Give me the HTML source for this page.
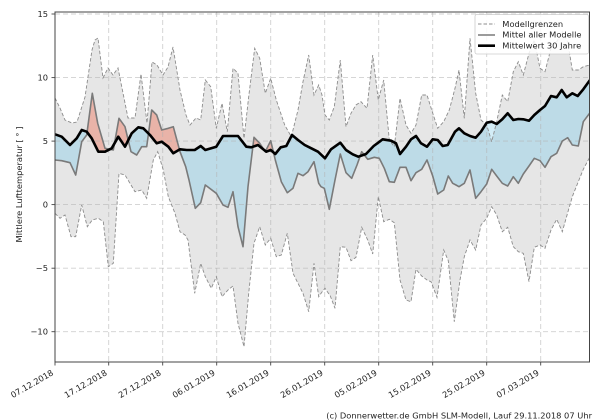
<!DOCTYPE html>
<html><head><meta charset="utf-8"><style>
html,body{margin:0;padding:0;background:#fff;}
svg{display:block;font-family:"DejaVu Sans","Liberation Sans",sans-serif;}
</style></head><body>
<svg width="600" height="420" viewBox="0 0 600 420" xmlns="http://www.w3.org/2000/svg">
<defs>
<clipPath id="ax"><rect x="55" y="12" width="534.5" height="350"/></clipPath>
<clipPath id="belowB"><polygon points="55,134.3 61.7,136.7 70,145 76.7,138.3 81.7,130 86.7,131.7 91.7,138.3 98.3,151.7 105,151.7 111.7,148.3 118.3,136.7 125,146.7 131.7,133.3 138.3,127.3 143.3,128.3 150,135 156.7,143.3 161.7,141.7 168.3,146.7 173.3,153.3 180,149.3 186.7,150 194.7,150 200.7,146 205.3,150 216.3,146.7 223,136 238,136 246.3,146.7 251.3,147.3 258,145 266.3,151.7 270.7,150 275.3,154 280.7,147.3 286.3,146 292,135 298,140 304.7,145 311.3,148.3 318,151.7 325,158.3 331,149.3 340.3,142.7 346,150 352.7,154.3 358.3,156.7 366,154 373.7,146 382.7,139.3 391,140.7 396,143.3 400,154 406,146.7 411,139.3 416,136 421,143.3 427,146.7 432.7,139.3 437.7,140 442.7,146 447.7,145 455,131.7 459,128.3 464.3,133.3 470,136 475.7,137.7 481,131.7 486.7,122.7 491.7,121.7 496.7,124 502.3,119.3 507.7,113.3 513.3,120 518.3,119 523.3,119.3 529,120.7 534.3,115 540,110 545,106 551,96 556.7,97.3 561.7,90 566.7,97.3 572.3,93.3 577.7,96 583.3,89.3 590,80 590,420 55,420"/></clipPath>
<clipPath id="aboveB"><polygon points="55,134.3 61.7,136.7 70,145 76.7,138.3 81.7,130 86.7,131.7 91.7,138.3 98.3,151.7 105,151.7 111.7,148.3 118.3,136.7 125,146.7 131.7,133.3 138.3,127.3 143.3,128.3 150,135 156.7,143.3 161.7,141.7 168.3,146.7 173.3,153.3 180,149.3 186.7,150 194.7,150 200.7,146 205.3,150 216.3,146.7 223,136 238,136 246.3,146.7 251.3,147.3 258,145 266.3,151.7 270.7,150 275.3,154 280.7,147.3 286.3,146 292,135 298,140 304.7,145 311.3,148.3 318,151.7 325,158.3 331,149.3 340.3,142.7 346,150 352.7,154.3 358.3,156.7 366,154 373.7,146 382.7,139.3 391,140.7 396,143.3 400,154 406,146.7 411,139.3 416,136 421,143.3 427,146.7 432.7,139.3 437.7,140 442.7,146 447.7,145 455,131.7 459,128.3 464.3,133.3 470,136 475.7,137.7 481,131.7 486.7,122.7 491.7,121.7 496.7,124 502.3,119.3 507.7,113.3 513.3,120 518.3,119 523.3,119.3 529,120.7 534.3,115 540,110 545,106 551,96 556.7,97.3 561.7,90 566.7,97.3 572.3,93.3 577.7,96 583.3,89.3 590,80 590,0 55,0"/></clipPath>
</defs>
<rect width="600" height="420" fill="#fff"/>
<g clip-path="url(#ax)">
<!-- model band -->
<polygon fill="#e6e6e6" points="55,98 60,108 65,120 72,123 77,122 85,97 92,50 95,40 98,38 103,78 108,68 113,75 118,68 122,88 128,118 135,118 141,74 147,123 152,62 157,65 163,75 168,67 173,47 180,90 186,115 190,125 196,118 200.7,120 205.3,80 210.7,86.7 216.3,128.3 222,103.3 227.3,131.7 233,68.3 238,73.3 244,138.3 248.7,96.7 254.7,48.3 259.7,58.3 265.3,93.3 270.7,78.3 276.3,100 284.7,125 291.3,136.7 298,110 303,81.7 308.7,55 314,95 318.7,85 322,95 325,115 329.3,120 334.3,106.7 340.3,60 346,126.7 351,113.3 356,105 361,101.7 367,108.3 372.7,55 378.3,100 383.7,80 389.3,140 394.3,146.7 400,98.3 406,125 411,133.3 416,125 421.7,95 427,95 431.7,110 437.7,128.3 443.7,121.7 449.3,110 455,88.3 459,70 464.3,118.3 470,38.3 475.7,93.3 481,120 486.7,125 491.7,141.7 496.7,121.7 502.3,95 507.7,101.7 513.3,71.7 518.3,61.7 523.3,75 529,53.3 534.3,40 540,68.3 545,71.7 551,48.3 556.7,41.7 562.3,31.7 567.7,41.7 572.3,70 578.3,70 583.3,66.7 590,65 590,156.7 583.3,169.3 578.3,181.7 572.3,196.7 567.7,212.7 562.3,231.7 556.7,219.3 551,230 545,248.3 540,245 534.3,247.3 529,281.7 523.3,253.3 518.3,251.7 513.3,246.7 507.7,227.3 502.3,231.7 496.7,215 491.7,206.7 486.7,218.3 481,225 475.7,250 470,240 464.3,256.7 460,280 454.3,321.7 448.3,260.7 443.7,250 437,297.3 431,281.7 427,280 421.7,276 416,269.3 411,301.7 406,300 400,280 394.3,222.7 389.3,219.3 383.7,221.7 378.3,196.7 372.7,254 367.7,240 361.7,227.3 356,257.3 351,260.7 346,247.3 340.3,246.7 335,308.3 330.3,296 325,288.3 322,292 318.7,296.7 314,263.3 308.7,311.7 303,293.3 298,283.3 293,273.3 287.3,233.3 281.3,255 276.3,256.7 270.7,238.3 265.3,245 259.7,226.7 254,243.3 248.7,293.3 244,346.7 238,323.3 233,286 228,290 222,296.7 216.3,276.7 211.3,288.3 205.3,276.7 200.7,263.3 194.7,293.3 188,240 185,235 180,231.7 175,213.3 168.3,196.7 163.3,170 157.7,151.7 153.3,160 146.7,198.3 141.7,190 135,191.7 125,175 119,173.3 113.3,263.3 108.3,266.7 103.3,221.7 98.3,218.3 92.3,220 87.3,226.7 81.7,205 75.7,236.7 71,236.7 65,215 60,218.3 55,213.3"/>
<!-- blue: mean below 30y -->
<g clip-path="url(#belowB)"><polygon fill="#bddbe7" points="55,160 61.7,160.7 70,162.7 75.7,175 81.7,141.7 86.7,135 92.3,93.3 97.7,123.3 105,148.3 113.3,150 119,118.3 125,126.7 131,151.7 136.7,155 141.7,146.7 146.7,146.7 151.7,110 156.7,115 161.7,130 168.3,128.3 173.3,126.7 180,151.7 185.7,166.7 189,180 195.3,208.3 200.7,202.7 205.3,185 216.3,193.3 223,205 228,207.3 233,191.7 238,226.7 243,246.7 248,186.7 254,137.3 259.7,143.3 265.3,151.7 270.7,140.7 275.3,160 281.3,181.7 287.3,192.7 293,188.3 298,173.3 303,175.7 308,171.7 314,161.7 318.7,183.3 321,186.7 324.3,188.3 329.3,209.3 335,180 340.3,154 346,172.7 351.7,178.3 357,165 361.7,151.7 367.7,159.3 374.3,157.3 379.3,158.3 384.3,168.3 389.3,181.7 394.3,182.3 400,167.3 406,167.3 411,180.7 416,172.7 421.7,169.3 427,160 432.7,176 437.7,194 443.7,190 448.3,176 452.7,183.3 456,185 459,186.7 464.3,183.3 470,170 475.7,198.3 481,191.7 486.7,184 491.7,169.3 496.7,176 502.3,183.3 507.7,186 513.3,176.7 518.3,183.3 523.3,174 529,166 534.3,158.3 540,160.7 545,167.3 551,156.7 556.7,153.3 562.3,141 567.7,137.7 572.3,145 578.3,146 583.3,121.7 590,112.7 590,0 55,0"/></g>
<!-- light blue outside band near 491 -->
<polygon fill="#d3edf7" points="486.7,122.7 491.7,121.7 496.7,124 496.7,121.7 491.7,141.7 486.7,125"/>
<!-- red: mean above 30y -->
<g clip-path="url(#aboveB)"><polygon fill="#e9b3a8" points="55,160 61.7,160.7 70,162.7 75.7,175 81.7,141.7 86.7,135 92.3,93.3 97.7,123.3 105,148.3 113.3,150 119,118.3 125,126.7 131,151.7 136.7,155 141.7,146.7 146.7,146.7 151.7,110 156.7,115 161.7,130 168.3,128.3 173.3,126.7 180,151.7 185.7,166.7 189,180 195.3,208.3 200.7,202.7 205.3,185 216.3,193.3 223,205 228,207.3 233,191.7 238,226.7 243,246.7 248,186.7 254,137.3 259.7,143.3 265.3,151.7 270.7,140.7 275.3,160 281.3,181.7 287.3,192.7 293,188.3 298,173.3 303,175.7 308,171.7 314,161.7 318.7,183.3 321,186.7 324.3,188.3 329.3,209.3 335,180 340.3,154 346,172.7 351.7,178.3 357,165 361.7,151.7 367.7,159.3 374.3,157.3 379.3,158.3 384.3,168.3 389.3,181.7 394.3,182.3 400,167.3 406,167.3 411,180.7 416,172.7 421.7,169.3 427,160 432.7,176 437.7,194 443.7,190 448.3,176 452.7,183.3 456,185 459,186.7 464.3,183.3 470,170 475.7,198.3 481,191.7 486.7,184 491.7,169.3 496.7,176 502.3,183.3 507.7,186 513.3,176.7 518.3,183.3 523.3,174 529,166 534.3,158.3 540,160.7 545,167.3 551,156.7 556.7,153.3 562.3,141 567.7,137.7 572.3,145 578.3,146 583.3,121.7 590,112.7 590,420 55,420"/></g>
<!-- grid -->
<g stroke="#b0b0b0" stroke-opacity="0.6" stroke-width="0.9" stroke-dasharray="5,3" fill="none">
<line x1="55" y1="14" x2="590" y2="14"/>
<line x1="55" y1="77.6" x2="590" y2="77.6"/>
<line x1="55" y1="141.1" x2="590" y2="141.1"/>
<line x1="55" y1="204.6" x2="590" y2="204.6"/>
<line x1="55" y1="268.2" x2="590" y2="268.2"/>
<line x1="55" y1="331.7" x2="590" y2="331.7"/>
<line x1="108.7" y1="12" x2="108.7" y2="362"/>
<line x1="162.7" y1="12" x2="162.7" y2="362"/>
<line x1="216.7" y1="12" x2="216.7" y2="362"/>
<line x1="270.7" y1="12" x2="270.7" y2="362"/>
<line x1="324.7" y1="12" x2="324.7" y2="362"/>
<line x1="378.7" y1="12" x2="378.7" y2="362"/>
<line x1="432.7" y1="12" x2="432.7" y2="362"/>
<line x1="486.7" y1="12" x2="486.7" y2="362"/>
<line x1="540.7" y1="12" x2="540.7" y2="362"/>
</g>
<!-- band edges -->
<g fill="none" stroke="#8c8c8c" stroke-width="0.9" stroke-dasharray="3.5,2">
<polyline points="55,98 60,108 65,120 72,123 77,122 85,97 92,50 95,40 98,38 103,78 108,68 113,75 118,68 122,88 128,118 135,118 141,74 147,123 152,62 157,65 163,75 168,67 173,47 180,90 186,115 190,125 196,118 200.7,120 205.3,80 210.7,86.7 216.3,128.3 222,103.3 227.3,131.7 233,68.3 238,73.3 244,138.3 248.7,96.7 254.7,48.3 259.7,58.3 265.3,93.3 270.7,78.3 276.3,100 284.7,125 291.3,136.7 298,110 303,81.7 308.7,55 314,95 318.7,85 322,95 325,115 329.3,120 334.3,106.7 340.3,60 346,126.7 351,113.3 356,105 361,101.7 367,108.3 372.7,55 378.3,100 383.7,80 389.3,140 394.3,146.7 400,98.3 406,125 411,133.3 416,125 421.7,95 427,95 431.7,110 437.7,128.3 443.7,121.7 449.3,110 455,88.3 459,70 464.3,118.3 470,38.3 475.7,93.3 481,120 486.7,125 491.7,141.7 496.7,121.7 502.3,95 507.7,101.7 513.3,71.7 518.3,61.7 523.3,75 529,53.3 534.3,40 540,68.3 545,71.7 551,48.3 556.7,41.7 562.3,31.7 567.7,41.7 572.3,70 578.3,70 583.3,66.7 590,65"/>
<polyline points="55,213.3 60,218.3 65,215 71,236.7 75.7,236.7 81.7,205 87.3,226.7 92.3,220 98.3,218.3 103.3,221.7 108.3,266.7 113.3,263.3 119,173.3 125,175 135,191.7 141.7,190 146.7,198.3 153.3,160 157.7,151.7 163.3,170 168.3,196.7 175,213.3 180,231.7 185,235 188,240 194.7,293.3 200.7,263.3 205.3,276.7 211.3,288.3 216.3,276.7 222,296.7 228,290 233,286 238,323.3 244,346.7 248.7,293.3 254,243.3 259.7,226.7 265.3,245 270.7,238.3 276.3,256.7 281.3,255 287.3,233.3 293,273.3 298,283.3 303,293.3 308.7,311.7 314,263.3 318.7,296.7 322,292 325,288.3 330.3,296 335,308.3 340.3,246.7 346,247.3 351,260.7 356,257.3 361.7,227.3 367.7,240 372.7,254 378.3,196.7 383.7,221.7 389.3,219.3 394.3,222.7 400,280 406,300 411,301.7 416,269.3 421.7,276 427,280 431,281.7 437,297.3 443.7,250 448.3,260.7 454.3,321.7 460,280 464.3,256.7 470,240 475.7,250 481,225 486.7,218.3 491.7,206.7 496.7,215 502.3,231.7 507.7,227.3 513.3,246.7 518.3,251.7 523.3,253.3 529,281.7 534.3,247.3 540,245 545,248.3 551,230 556.7,219.3 562.3,231.7 567.7,212.7 572.3,196.7 578.3,181.7 583.3,169.3 590,156.7"/>
</g>
<!-- model mean -->
<polyline fill="none" stroke="#7a7a7a" stroke-width="1.6" stroke-linejoin="round" points="55,160 61.7,160.7 70,162.7 75.7,175 81.7,141.7 86.7,135 92.3,93.3 97.7,123.3 105,148.3 113.3,150 119,118.3 125,126.7 131,151.7 136.7,155 141.7,146.7 146.7,146.7 151.7,110 156.7,115 161.7,130 168.3,128.3 173.3,126.7 180,151.7 185.7,166.7 189,180 195.3,208.3 200.7,202.7 205.3,185 216.3,193.3 223,205 228,207.3 233,191.7 238,226.7 243,246.7 248,186.7 254,137.3 259.7,143.3 265.3,151.7 270.7,140.7 275.3,160 281.3,181.7 287.3,192.7 293,188.3 298,173.3 303,175.7 308,171.7 314,161.7 318.7,183.3 321,186.7 324.3,188.3 329.3,209.3 335,180 340.3,154 346,172.7 351.7,178.3 357,165 361.7,151.7 367.7,159.3 374.3,157.3 379.3,158.3 384.3,168.3 389.3,181.7 394.3,182.3 400,167.3 406,167.3 411,180.7 416,172.7 421.7,169.3 427,160 432.7,176 437.7,194 443.7,190 448.3,176 452.7,183.3 456,185 459,186.7 464.3,183.3 470,170 475.7,198.3 481,191.7 486.7,184 491.7,169.3 496.7,176 502.3,183.3 507.7,186 513.3,176.7 518.3,183.3 523.3,174 529,166 534.3,158.3 540,160.7 545,167.3 551,156.7 556.7,153.3 562.3,141 567.7,137.7 572.3,145 578.3,146 583.3,121.7 590,112.7"/>
<!-- 30y mean -->
<polyline fill="none" stroke="#000" stroke-width="2.6" stroke-linejoin="round" points="55,134.3 61.7,136.7 70,145 76.7,138.3 81.7,130 86.7,131.7 91.7,138.3 98.3,151.7 105,151.7 111.7,148.3 118.3,136.7 125,146.7 131.7,133.3 138.3,127.3 143.3,128.3 150,135 156.7,143.3 161.7,141.7 168.3,146.7 173.3,153.3 180,149.3 186.7,150 194.7,150 200.7,146 205.3,150 216.3,146.7 223,136 238,136 246.3,146.7 251.3,147.3 258,145 266.3,151.7 270.7,150 275.3,154 280.7,147.3 286.3,146 292,135 298,140 304.7,145 311.3,148.3 318,151.7 325,158.3 331,149.3 340.3,142.7 346,150 352.7,154.3 358.3,156.7 366,154 373.7,146 382.7,139.3 391,140.7 396,143.3 400,154 406,146.7 411,139.3 416,136 421,143.3 427,146.7 432.7,139.3 437.7,140 442.7,146 447.7,145 455,131.7 459,128.3 464.3,133.3 470,136 475.7,137.7 481,131.7 486.7,122.7 491.7,121.7 496.7,124 502.3,119.3 507.7,113.3 513.3,120 518.3,119 523.3,119.3 529,120.7 534.3,115 540,110 545,106 551,96 556.7,97.3 561.7,90 566.7,97.3 572.3,93.3 577.7,96 583.3,89.3 590,80"/>
</g>
<!-- spines -->
<rect x="55" y="12" width="534.5" height="350" fill="none" stroke="#444" stroke-width="1"/>
<!-- ticks -->
<g stroke="#444" stroke-width="0.9">
<line x1="51.5" y1="14" x2="55" y2="14"/>
<line x1="51.5" y1="77.6" x2="55" y2="77.6"/>
<line x1="51.5" y1="141.1" x2="55" y2="141.1"/>
<line x1="51.5" y1="204.6" x2="55" y2="204.6"/>
<line x1="51.5" y1="268.2" x2="55" y2="268.2"/>
<line x1="51.5" y1="331.7" x2="55" y2="331.7"/>
<line x1="55" y1="362" x2="55" y2="365.5"/>
<line x1="108.7" y1="362" x2="108.7" y2="365.5"/>
<line x1="162.7" y1="362" x2="162.7" y2="365.5"/>
<line x1="216.7" y1="362" x2="216.7" y2="365.5"/>
<line x1="270.7" y1="362" x2="270.7" y2="365.5"/>
<line x1="324.7" y1="362" x2="324.7" y2="365.5"/>
<line x1="378.7" y1="362" x2="378.7" y2="365.5"/>
<line x1="432.7" y1="362" x2="432.7" y2="365.5"/>
<line x1="486.7" y1="362" x2="486.7" y2="365.5"/>
<line x1="540.7" y1="362" x2="540.7" y2="365.5"/>
</g>
<g font-size="8.3" fill="#222" text-anchor="end">
<text x="48" y="17">15</text>
<text x="48" y="80.6">10</text>
<text x="48" y="144.1">5</text>
<text x="48" y="207.6">0</text>
<text x="48" y="271.2">−5</text>
<text x="48" y="334.7">−10</text>
<text transform="translate(54,374.5) rotate(-30)">07.12.2018</text>
<text transform="translate(107.7,374.5) rotate(-30)">17.12.2018</text>
<text transform="translate(161.7,374.5) rotate(-30)">27.12.2018</text>
<text transform="translate(215.7,374.5) rotate(-30)">06.01.2019</text>
<text transform="translate(269.7,374.5) rotate(-30)">16.01.2019</text>
<text transform="translate(323.7,374.5) rotate(-30)">26.01.2019</text>
<text transform="translate(377.7,374.5) rotate(-30)">05.02.2019</text>
<text transform="translate(431.7,374.5) rotate(-30)">15.02.2019</text>
<text transform="translate(485.7,374.5) rotate(-30)">25.02.2019</text>
<text transform="translate(539.7,374.5) rotate(-30)">07.03.2019</text>
</g>
<text transform="translate(21.8,184.5) rotate(-90)" font-size="8.3" fill="#222" text-anchor="middle">Mittlere Lufttemperatur [ ° ]</text>
<!-- legend -->
<rect x="475" y="14.5" width="113.5" height="39.5" rx="2" fill="#fff" fill-opacity="0.85" stroke="#cccccc" stroke-width="0.8"/>
<line x1="478" y1="24" x2="495" y2="24" stroke="#8c8c8c" stroke-width="0.9" stroke-dasharray="3.5,2"/>
<line x1="478" y1="35" x2="495" y2="35" stroke="#7a7a7a" stroke-width="1.6"/>
<line x1="478" y1="45.7" x2="495" y2="45.7" stroke="#000" stroke-width="2.6"/>
<g font-size="8.3" fill="#222">
<text x="502.3" y="26.8">Modellgrenzen</text>
<text x="502.3" y="37.6">Mittel aller Modelle</text>
<text x="502.3" y="48.4">Mittelwert 30 Jahre</text>
</g>
<text x="592" y="418.5" font-size="8.3" fill="#222" text-anchor="end">(c) Donnerwetter.de GmbH SLM-Modell, Lauf 29.11.2018 07 Uhr</text>
</svg>
</body></html>
